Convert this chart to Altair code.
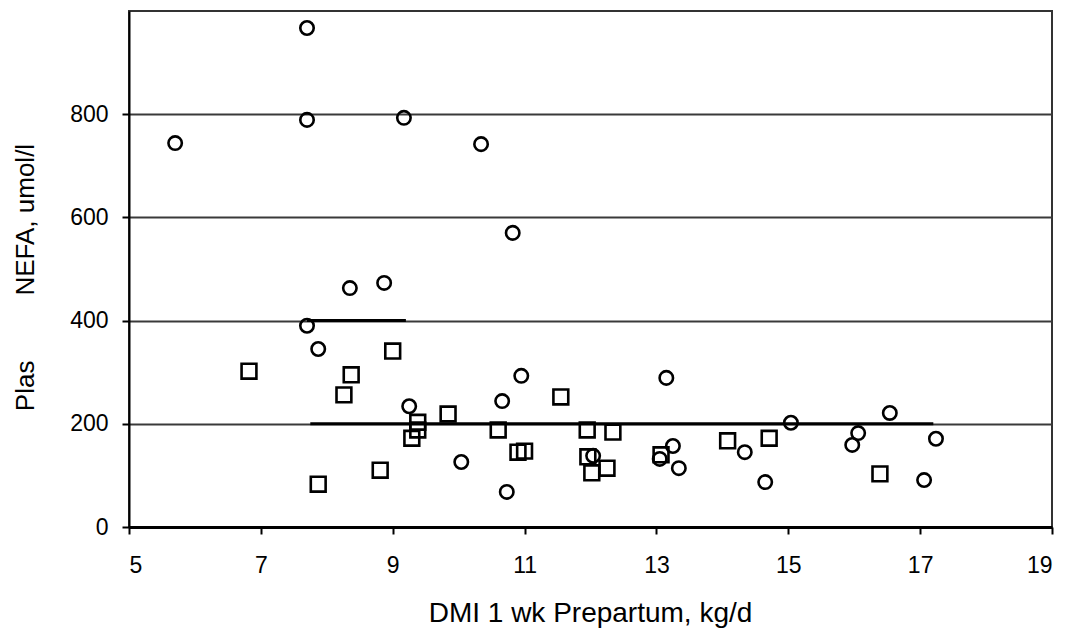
import altair as alt
import pandas as pd

# Open circles
circle_x = [5.70, 7.70, 7.70, 9.17, 10.34, 10.82, 8.35, 8.87, 7.70, 7.87, 9.25, 10.95,
            10.66, 13.15, 10.04, 10.73, 12.04, 13.25, 13.05, 13.34, 14.34, 14.65, 15.04,
            16.54, 16.06, 15.97, 17.24, 17.06]
circle_y = [744, 967, 789, 793, 742, 570, 463, 473, 390, 345, 234, 293,
            244, 289, 126, 68, 138, 157, 132, 114, 145, 87, 202,
            221, 182, 159, 171, 91]

# Open squares
square_x = [6.82, 8.37, 8.26, 9.00, 9.38, 9.38, 9.29, 9.84, 7.87, 8.81, 10.60, 10.90,
            11.00, 11.55, 11.95, 12.34, 11.96, 12.02, 12.25, 13.07, 14.08, 14.71, 16.39]
square_y = [302, 295, 256, 341, 203, 188, 172, 219, 83, 110, 188, 145,
            147, 252, 188, 184, 136, 105, 114, 140, 167, 172, 103]

# Dark horizontal segments
seg_x1 = [7.75, 7.70]
seg_x2 = [17.20, 9.20]
seg_y = [200, 400]

x_ticks = [5, 7, 9, 11, 13, 15, 17, 19]
y_ticks = [0, 200, 400, 600, 800]

FONT = "Liberation Sans"

circles = pd.DataFrame({"x": circle_x, "y": circle_y})
squares = pd.DataFrame({"x": square_x, "y": square_y})
segs = pd.DataFrame({"x1": seg_x1, "x2": seg_x2, "y": seg_y})

xscale = alt.Scale(domain=[5, 19], nice=False, zero=False)
yscale = alt.Scale(domain=[0, 1000], nice=False)

xaxis = alt.Axis(
    values=x_ticks, format="d", title="DMI 1 wk Prepartum, kg/d", grid=False,
    labelFontSize=23, labelFont=FONT, labelColor="black", labelPadding=20,
    tickSize=7, tickWidth=2, tickColor="black",
    domainColor="black", domainWidth=3,
    titleFontSize=28, titleFont=FONT, titleFontWeight="normal", titleColor="black",
    titleX=461, titleY=86, titleBaseline="middle", titleAlign="center",
)
yaxis = alt.Axis(
    values=y_ticks, format="d", title="Plas" + "\u00a0" * 9 + "NEFA, umol/l", grid=True,
    gridColor="#3a3a3a", gridWidth=2,
    labelFontSize=23, labelFont=FONT, labelColor="black", labelPadding=14,
    tickSize=7, tickWidth=2, tickColor="black",
    domainColor="black", domainWidth=2,
    titleFontSize=26, titleFont=FONT, titleFontWeight="normal", titleColor="black",
    titleAngle=270, titleX=-104, titleY=266, titleAlign="center", titleBaseline="middle",
)

base_c = alt.Chart(circles).mark_point(
    shape="circle", filled=False, size=180, strokeWidth=2.6, color="black", opacity=1
).encode(
    x=alt.X("x:Q", scale=xscale, axis=xaxis),
    y=alt.Y("y:Q", scale=yscale, axis=yaxis),
)

base_s = alt.Chart(squares).mark_point(
    shape="square", filled=False, size=220, strokeWidth=2.6, color="black", opacity=1
).encode(
    x=alt.X("x:Q", scale=xscale),
    y=alt.Y("y:Q", scale=yscale),
)

lines = alt.Chart(segs).mark_rule(color="black", strokeWidth=3).encode(
    x=alt.X("x1:Q", scale=xscale),
    x2="x2:Q",
    y=alt.Y("y:Q", scale=yscale),
)

chart = alt.layer(lines, base_s, base_c).properties(
    width=923, height=516,
    autosize=alt.AutoSizeParams(type="none"),
    padding={"left": 129, "top": 11, "right": 17, "bottom": 104},
    background="white",
).configure_view(stroke="#333333", strokeWidth=2)

chart.save("out.html", embed_options={"renderer": "svg", "actions": False})
